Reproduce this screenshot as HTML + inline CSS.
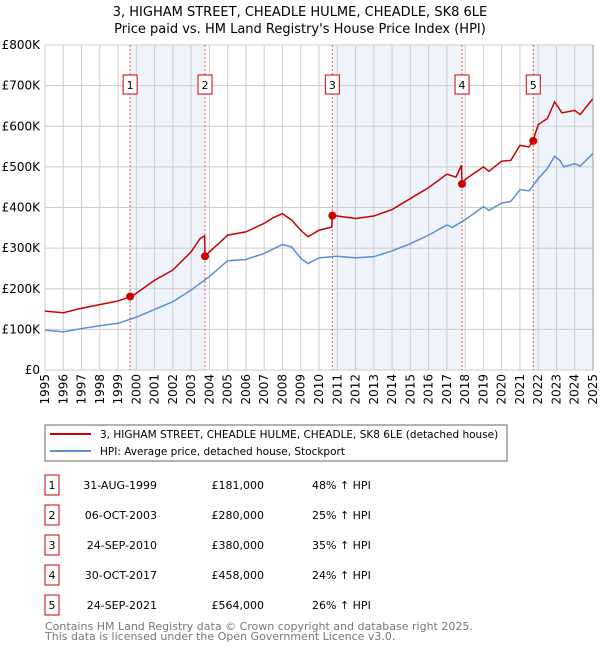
<!DOCTYPE html>
<html><head><meta charset="utf-8"><style>
body{margin:0;background:#fff;font-family:"Liberation Sans","DejaVu Sans",sans-serif;}
svg text{font-family:"DejaVu Sans","Liberation Sans",sans-serif;}
</style></head><body>
<svg id="c" width="600" height="650" xmlns="http://www.w3.org/2000/svg">
<text x="300" y="16" text-anchor="middle" font-size="13">3, HIGHAM STREET, CHEADLE HULME, CHEADLE, SK8 6LE</text>
<text x="300" y="33" text-anchor="middle" font-size="13">Price paid vs. HM Land Registry's House Price Index (HPI)</text>
<g id="plot"></g>
<rect x="45" y="425" width="462" height="36" fill="#fff" stroke="#666"/>
<line x1="50" y1="434" x2="91" y2="434" stroke="#cc0000" stroke-width="2"/>
<text x="100" y="438" font-size="10.5">3, HIGHAM STREET, CHEADLE HULME, CHEADLE, SK8 6LE (detached house)</text>
<line x1="50" y1="451" x2="91" y2="451" stroke="#5b8fd4" stroke-width="2"/>
<text x="100" y="455" font-size="10.5">HPI: Average price, detached house, Stockport</text>
<g id="table" font-size="11"></g>
<text x="45" y="630" font-size="11" fill="#777">Contains HM Land Registry data © Crown copyright and database right 2025.</text>
<text x="45" y="640" font-size="11" fill="#777">This data is licensed under the Open Government Licence v3.0.</text>
</svg>
<script>
const hpiYears=[1995,1996,1997,1998,1999,2000,2001,2002,2003,2004,2005,2006,2007,2008,2008.5,2009,2009.4,2010,2011,2012,2013,2014,2015,2016,2017,2017.3,2018,2019,2019.3,2020,2020.5,2021,2021.5,2022,2022.5,2022.9,2023.2,2023.4,2024,2024.3,2025];
const hpiValues=[98,94,102,109,115,130,149,168,197,230,269,272,287,309,303,275,262,276,280,276,279,293,311,332,357,351,370,402,393,411,415,444,441,471,496,526,515,500,508,502,533];
const priceYears=[1995,1996,1997,1998,1999,1999.67,2000,2001,2002,2003,2003.5,2003.74,2003.76,2004,2004.5,2005,2006,2007,2007.5,2008,2008.5,2009,2009.4,2010,2010.7,2010.73,2011,2012,2013,2014,2015,2016,2017,2017.5,2017.8,2017.83,2018,2019,2019.3,2020,2020.5,2021,2021.5,2021.73,2022,2022.5,2022.9,2023.3,2024,2024.3,2025];
const priceValues=[145,141,152,161,170,180,189,221,246,291,324,330,279,291,311,332,340,361,375,385,369,344,328,344,352,383,379,373,379,395,422,449,482,475,504,459,469,500,489,514,516,553,549,566,604,619,660,633,639,629,668];
const saleLabels=["1","2","3","4","5"];
const saleYears=[1999.66,2003.76,2010.73,2017.83,2021.73];
const saleValues=[181,280,380,458,564];
const saleDates=["31-AUG-1999","06-OCT-2003","24-SEP-2010","30-OCT-2017","24-SEP-2021"];
const salePrices=["£181,000","£280,000","£380,000","£458,000","£564,000"];
const salePct=["48% ↑ HPI","25% ↑ HPI","35% ↑ HPI","24% ↑ HPI","26% ↑ HPI"];
const yTicks=[0,100,200,300,400,500,600,700,800];
const yTickLabels=["£0","£100K","£200K","£300K","£400K","£500K","£600K","£700K","£800K"];
const xTicks=[1995,1996,1997,1998,1999,2000,2001,2002,2003,2004,2005,2006,2007,2008,2009,2010,2011,2012,2013,2014,2015,2016,2017,2018,2019,2020,2021,2022,2023,2024,2025];

const X0=45,X1=593,Y0=370,Y1=45;
const xs=t=>X0+(t-1995)/30*(X1-X0);
const ys=v=>Y0-v/800*(Y0-Y1);
const NS="http://www.w3.org/2000/svg";
const g=document.getElementById('plot');
function mk(tag,attrs,parent){const e=document.createElementNS(NS,tag);for(const k in attrs)e.setAttribute(k,attrs[k]);(parent||g).appendChild(e);return e;}

// shading
const shadeEnds=[[saleYears[0],saleYears[1]],[saleYears[2],saleYears[3]],[saleYears[4],2025]];
shadeEnds.forEach(s=>{const r=mk('rect',{x:xs(s[0]),y:Y1,width:xs(s[1])-xs(s[0]),height:Y0-Y1,fill:'#eef3fc'});

});
// grid
xTicks.forEach((t,i)=>{const l=mk('line',{x1:xs(t),x2:xs(t),y1:Y1,y2:Y0,stroke:'#ccc','stroke-width':1});


const tx=mk('text',{x:0,y:0,'font-size':12,'text-anchor':'end',transform:`translate(${xs(t)+4},374) rotate(-90)`});
tx.textContent=t;

});
yTicks.forEach((v,i)=>{const l=mk('line',{x1:X0,x2:X1,y1:ys(v),y2:ys(v),stroke:'#ccc','stroke-width':1});


const tx=mk('text',{x:40,y:ys(v)+4,'font-size':12,'text-anchor':'end'});
tx.textContent=yTickLabels[i];

});
// sale lines
saleYears.forEach((t,i)=>{const l=mk('line',{x1:xs(t),x2:xs(t),y1:Y1,y2:Y0,stroke:'#e05555','stroke-width':1,'stroke-dasharray':'2,2'});


const r=mk('rect',{x:xs(t)-7,y:75,width:14,height:19,fill:'#fff',stroke:'#cc0000'});


const tx=mk('text',{x:xs(t),y:89,'font-size':11,'text-anchor':'middle'});
tx.textContent=saleLabels[i];

});
// lines
const hp=mk('polyline',{points:hpiYears.map((t,i)=>xs(t)+','+ys(hpiValues[i])).join(' '),fill:'none',stroke:'#5b8fd4','stroke-width':1.5});


const pp=mk('polyline',{points:priceYears.map((t,i)=>xs(t)+','+ys(priceValues[i])).join(' '),fill:'none',stroke:'#cc0000','stroke-width':1.5});


saleYears.forEach((t,i)=>{const c=mk('circle',{cx:xs(t),cy:ys(saleValues[i]),r:4,fill:'#cc0000'});

});
mk('line',{x1:X1,x2:X1,y1:Y1,y2:Y0,stroke:'#999'});
// table
const tb=document.getElementById('table');
saleLabels.forEach((s,i)=>{const y=475+i*30;
const r=mk('rect',{x:45,y:y,width:14,height:20,fill:'#fff',stroke:'#cc0000'},tb);


const a=mk('text',{x:52,y:y+14,'text-anchor':'middle'},tb);a.textContent=s;


const b=mk('text',{x:157,y:y+14,'text-anchor':'end'},tb);b.textContent=saleDates[i];


const c=mk('text',{x:264,y:y+14,'text-anchor':'end'},tb);c.textContent=salePrices[i];


const d=mk('text',{x:312,y:y+14},tb);d.textContent=salePct[i];

});
</script>
</body></html>
